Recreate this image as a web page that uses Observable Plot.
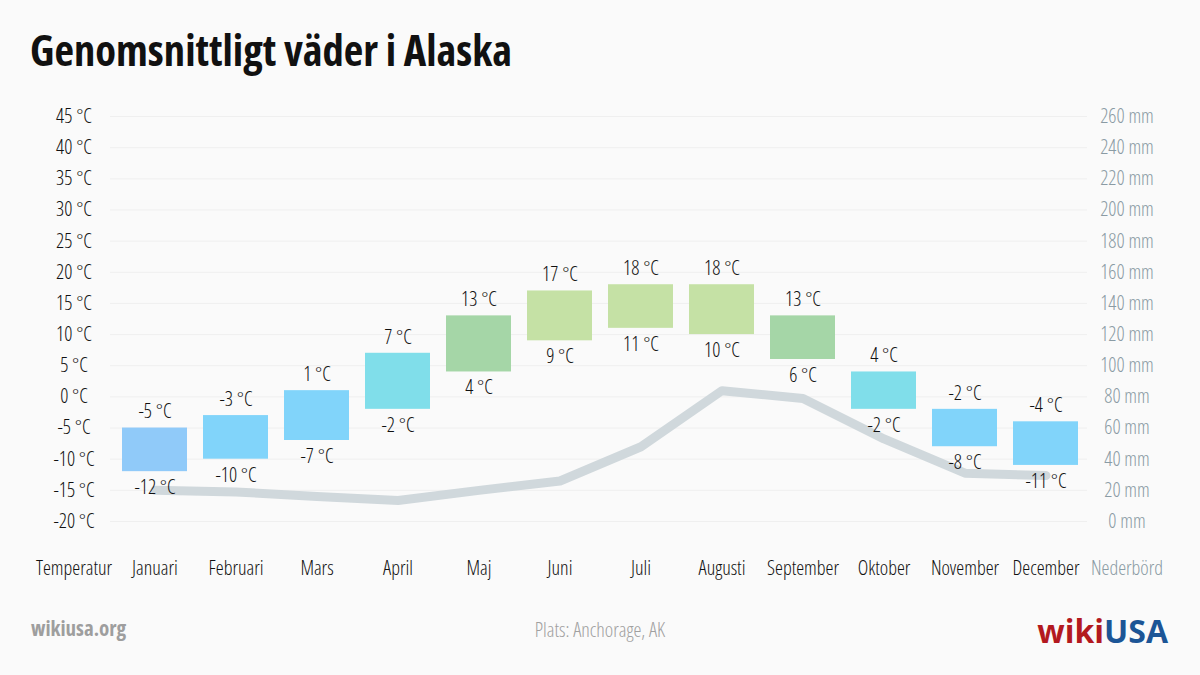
<!DOCTYPE html>
<html><head><meta charset="utf-8">
<script src="https://cdn.jsdelivr.net/npm/d3@7"></script>
<script src="https://cdn.jsdelivr.net/npm/@observablehq/plot@0.6"></script>
<style>
body{margin:0;background:#fafafa;}
#wrap{position:relative;width:1200px;height:675px;overflow:hidden;font-family:"Open Sans",sans-serif;font-stretch:75%;}
#chart{position:absolute;left:0;top:0;}
#title{position:absolute;left:30px;top:28px;font-size:42.6px;line-height:1;font-weight:700;color:#111;white-space:nowrap;}
#site{position:absolute;left:31px;top:618px;font-size:21px;line-height:1;font-weight:700;color:#9e9e9e;}
#place{position:absolute;left:0;width:1200px;text-align:center;top:620px;font-size:20px;line-height:1;font-weight:300;color:#a0a0a0;}
#logo{position:absolute;right:32px;top:615px;font-size:32px;line-height:1;font-weight:700;font-stretch:100%;}
#logo .w{color:#b3191f;} #logo .u{color:#1c5596;}
</style></head>
<body><div id="wrap">
<div id="chart"></div>
<div id="title">Genomsnittligt väder i Alaska</div>
<div id="site">wikiusa.org</div>
<div id="place">Plats: Anchorage, AK</div>
<div id="logo"><span class="w">wiki</span><span class="u">USA</span></div>
</div>
<script>
const months = ["Januari","Februari","Mars","April","Maj","Juni","Juli","Augusti","September","Oktober","November","December"];
const tempMax = [-5,-3,1,7,13,17,18,18,13,4,-2,-4];
const tempMin = [-12,-10,-7,-2,4,9,11,10,6,-2,-8,-11];
const precip = [20,19,16,13.5,20,26,48,84,79,53,31,29.5];
const leftTicks = [-20,-15,-10,-5,0,5,10,15,20,25,30,35,40,45];
const rightTicks = [0,20,40,60,80,100,120,140,160,180,200,220,240,260];
const leftTitle = "Temperatur";
const rightTitle = "Nederbörd";

const rows = months.map((m,i)=>({month:m, max:tempMax[i], min:tempMin[i], precip:precip[i]}));
const xDomain = [leftTitle, ...months, rightTitle];
// precipitation mapped onto temperature axis: 0 mm -> -20 °C, 260 mm -> 45 °C
const mm2y = mm => -20 + mm * 65 / 260;
const font = {fontSize: 20, fontWeight: 300};

const chart = Plot.plot({
  width: 1200, height: 675,
  marginTop: 116, marginBottom: 154, marginLeft: 31, marginRight: 31,
  style: {background: "transparent", fontFamily: '"Open Sans", sans-serif', fontStretch: "75%"},
  x: {domain: xDomain, paddingInner: 0.2, paddingOuter: 0.1, axis: null},
  y: {domain: [-20, 45], axis: null},
  color: {type: "threshold", domain: [-4, 4, 10, 15], range: ["#90caf9","#81d4fa","#80deea","#a5d6a7","#c5e1a5"]},
  marks: [
    Plot.ruleY(leftTicks, {stroke: "#efefef", strokeWidth: 1, insetLeft: 79, insetRight: 82}),
    Plot.line(rows, {x: "month", y: d => mm2y(d.precip), stroke: "#d0d8dc", strokeWidth: 9, strokeLinecap: "round", strokeLinejoin: "round"}),
    Plot.barY(rows, {x: "month", y1: "min", y2: "max", fill: "max"}),
    Plot.text(rows, {x: "month", y: "max", text: d => `${d.max} °C`, dy: -16, fill: "#111", ...font}),
    Plot.text(rows, {x: "month", y: "min", text: d => `${d.min} °C`, dy: 16, fill: "#111", ...font}),
    Plot.text(leftTicks, {x: () => leftTitle, y: d => d, text: d => `${d} °C`, fill: "#111", ...font}),
    Plot.text(rightTicks, {x: () => rightTitle, y: d => mm2y(d), text: d => `${d} mm`, fill: "#8a9ba4", ...font}),
    Plot.text([leftTitle, ...months], {x: d => d, frameAnchor: "bottom", dy: 53, fill: "#111", ...font}),
    Plot.text([rightTitle], {x: d => d, frameAnchor: "bottom", dy: 53, fill: "#8a9ba4", ...font})
  ]
});
document.getElementById("chart").appendChild(chart);
</script>
</body></html>
